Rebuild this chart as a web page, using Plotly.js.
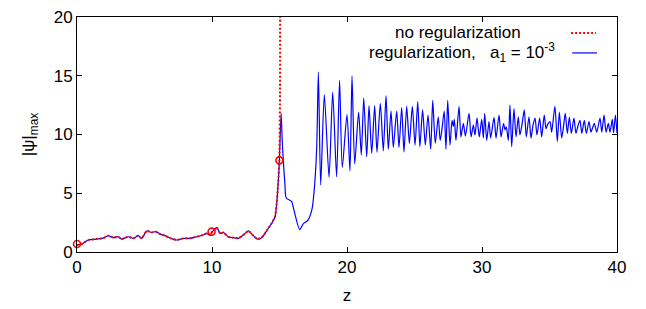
<!DOCTYPE html>
<html>
<head>
<meta charset="utf-8">
<script src="https://cdn.plot.ly/plotly-3.0.1.min.js"></script>
<style>html,body{margin:0;padding:0;background:#fff}#chart{width:646px;height:309px}</style>
</head>
<body>
<div id="chart"></div>
<script>
// regularization, a1 = 1e-3 (blue)
const zReg = [0,0.35,0.84,1.46,1.95,2.32,2.69,3.06,3.3,3.8,4.17,4.54,4.79,5.16,5.53,5.85,6.2,6.52,6.9,7.38,7.88,8.37,8.87,9.36,9.6,9.85,10.0,10.35,10.6,10.84,11.2,11.58,11.95,12.32,12.69,13.06,13.36,13.68,13.93,14.17,14.42,14.67,14.79,14.91,14.99,15.12,15.2,15.28,15.4,15.5,15.9,16.0,16.5,16.76,17.1,17.4,17.55,17.75,17.88,18.05,18.32,18.67,18.94,19.23,19.45,19.65,20.0,20.22,20.37,20.57,20.86,21.06,21.24,21.46,21.63,21.83,22.05,22.22,22.47,22.69,22.89,23.06,23.26,23.43,23.68,23.85,24.05,24.22,24.42,24.62,24.84,25.04,25.24,25.4,25.6,25.8,26.0,26.2,26.35,26.54,26.76,26.9,27.04,27.2,27.33,27.46,27.63,27.78,27.87,27.95,28.07,28.3,28.44,28.62,28.77,29.04,29.19,29.36,29.48,29.63,29.8,29.98,30.1,30.2,30.35,30.52,30.64,30.89,31.04,31.26,31.41,31.6,31.7,31.8,31.95,32.07,32.2,32.37,32.52,32.69,32.81,32.97,33.13,33.28,33.48,33.63,33.78,33.93,34.07,34.27,34.42,34.61,34.74,34.88,35.04,35.16,35.4,35.58,35.73,35.9,36.05,36.17,36.32,36.47,36.62,36.81,36.96,37.1,37.26,37.39,37.58,37.73,37.93,38.07,38.2,38.32,38.5,38.74,38.87,39.04,39.19,39.36,39.48,39.65,39.75,39.88,40.0];
const psiReg = [0.6,0.68,1.02,1.1,1.18,1.39,1.22,1.3,1.1,1.3,1.16,1.39,1.16,1.79,1.67,1.73,1.5,1.39,1.18,1.02,1.16,1.16,1.3,1.45,1.59,1.45,1.7,2.07,1.59,1.67,1.3,1.22,1.16,1.45,1.79,1.39,1.1,1.22,1.59,2.02,2.44,3.0,4.1,6.0,7.8,11.8,9.5,7.8,5.8,4.6,4.3,3.9,1.9,2.4,2.7,3.6,5.0,8.7,15.3,5.7,13.4,6.35,13.6,6.4,14.6,7.2,11.7,6.9,15.0,7.5,11.9,8.25,13.1,8.1,12.45,8.4,12.45,8.5,12.65,8.6,13.3,8.75,12.0,8.9,12.0,8.9,12.3,8.5,12.4,9.25,12.4,9.1,12.8,8.96,12.1,9.1,11.66,8.74,12.9,9.25,11.5,9.5,10.5,12.0,8.74,12.9,9.1,11.2,10.7,11.3,9.5,12.4,9.8,10.95,9.87,11.8,9.8,10.8,9.96,11.4,9.8,11.3,9.7,11.8,9.5,11.1,9.7,11.46,9.7,11.66,9.8,10.95,10.4,10.66,9.5,12.5,8.96,12.2,9.8,11.5,9.96,10.9,12.1,9.8,11.5,9.7,10.8,11.4,9.96,11.4,9.8,11.66,10.5,10.9,11.1,10.2,12.4,9.4,11.9,9.7,10.8,11.8,10.1,11.46,10.1,11.4,10.1,10.7,11.2,10.1,11.2,10.1,11.1,10.2,10.6,10.95,10.2,11.4,10.2,11.66,10.2,10.95,10.2,11.3,10.15,11.66,10.1];

// no regularization (red, blows up near z = 15)
const zNoReg = [0,0.35,0.84,1.46,1.95,2.32,2.69,3.06,3.3,3.8,4.17,4.54,4.79,5.16,5.53,5.85,6.2,6.52,6.9,7.38,7.88,8.37,8.87,9.36,9.6,9.85,10.0,10.35,10.6,10.84,11.2,11.58,11.95,12.32,12.69,13.06,13.36,13.68,13.93,14.17,14.42,14.67,14.79,14.91,14.99,15.04,15.05];
const psiNoReg = [0.6,0.68,1.02,1.1,1.18,1.39,1.22,1.3,1.1,1.3,1.16,1.39,1.16,1.79,1.67,1.73,1.5,1.39,1.18,1.02,1.16,1.16,1.3,1.45,1.59,1.45,1.7,2.07,1.59,1.67,1.3,1.22,1.16,1.45,1.79,1.39,1.1,1.22,1.59,2.02,2.44,3.0,4.1,6.0,7.8,14,40];

// circled points
const zMark = [0,9.97,14.99];
const psiMark = [0.68,1.73,7.8];

const xTicks = [0,10,20,30,40];
const yTicks = [0,5,10,15,20];

const font = {family:'Liberation Sans, Arial, sans-serif', size:17, color:'#000'};

const traces = [
  {x:zReg, y:psiReg, type:'scatter', mode:'lines', line:{color:'#0000ff', width:1.2, shape:'spline', smoothing:0.7}, showlegend:false, hoverinfo:'skip'},
  {x:zNoReg, y:psiNoReg, type:'scatter', mode:'lines', line:{color:'#ff0000', width:2, dash:'2px,2px', shape:'spline', smoothing:0.3}, showlegend:false, hoverinfo:'skip'},
  {x:zMark, y:psiMark, type:'scatter', mode:'markers', marker:{symbol:'circle-open', color:'#ff0000', size:7, line:{width:1.6, color:'#ff0000'}}, showlegend:false, cliponaxis:false, hoverinfo:'skip'}
];

const layout = {
  width:646, height:309,
  margin:{l:77, r:29, t:17, b:57},
  paper_bgcolor:'#fff', plot_bgcolor:'#fff',
  font:font,
  showlegend:false,
  xaxis:{range:[0,40], tickvals:xTicks, ticktext:xTicks.map(String), ticks:'inside', ticklen:5, tickcolor:'#000',
         showline:true, linecolor:'#000', linewidth:1, mirror:'ticks', showgrid:false, zeroline:false,
         tickfont:font, title:{text:'z', font:font, standoff:12}},
  yaxis:{range:[0,20], tickvals:yTicks, ticktext:yTicks.map(String), ticks:'inside', ticklen:5, tickcolor:'#000',
         showline:true, linecolor:'#000', linewidth:1, mirror:'ticks', showgrid:false, zeroline:false,
         tickfont:font, title:{text:'|ψ|<sub>max</sub>', font:font, standoff:14}},
  annotations:[
    {xref:'paper', yref:'paper', x:0.7056, y:0.936, xanchor:'center', yanchor:'middle', showarrow:false,
     text:'no regularization', font:font},
    {xref:'paper', yref:'paper', x:0.713, y:0.847, xanchor:'center', yanchor:'middle', showarrow:false,
     text:'regularization,\u00a0\u00a0\u00a0a<sub>1</sub> = 10<sup>-3</sup>', font:font}
  ],
  shapes:[
    {type:'line', xref:'paper', yref:'paper', x0:0.915, x1:0.961, y0:0.932, y1:0.932, line:{color:'#ff0000', width:2, dash:'2px,2px'}},
    {type:'line', xref:'paper', yref:'paper', x0:0.917, x1:0.963, y0:0.847, y1:0.847, line:{color:'#0000ff', width:1.2}}
  ]
};

Plotly.newPlot('chart', traces, layout, {staticPlot:true, displayModeBar:false});
</script>
</body>
</html>
